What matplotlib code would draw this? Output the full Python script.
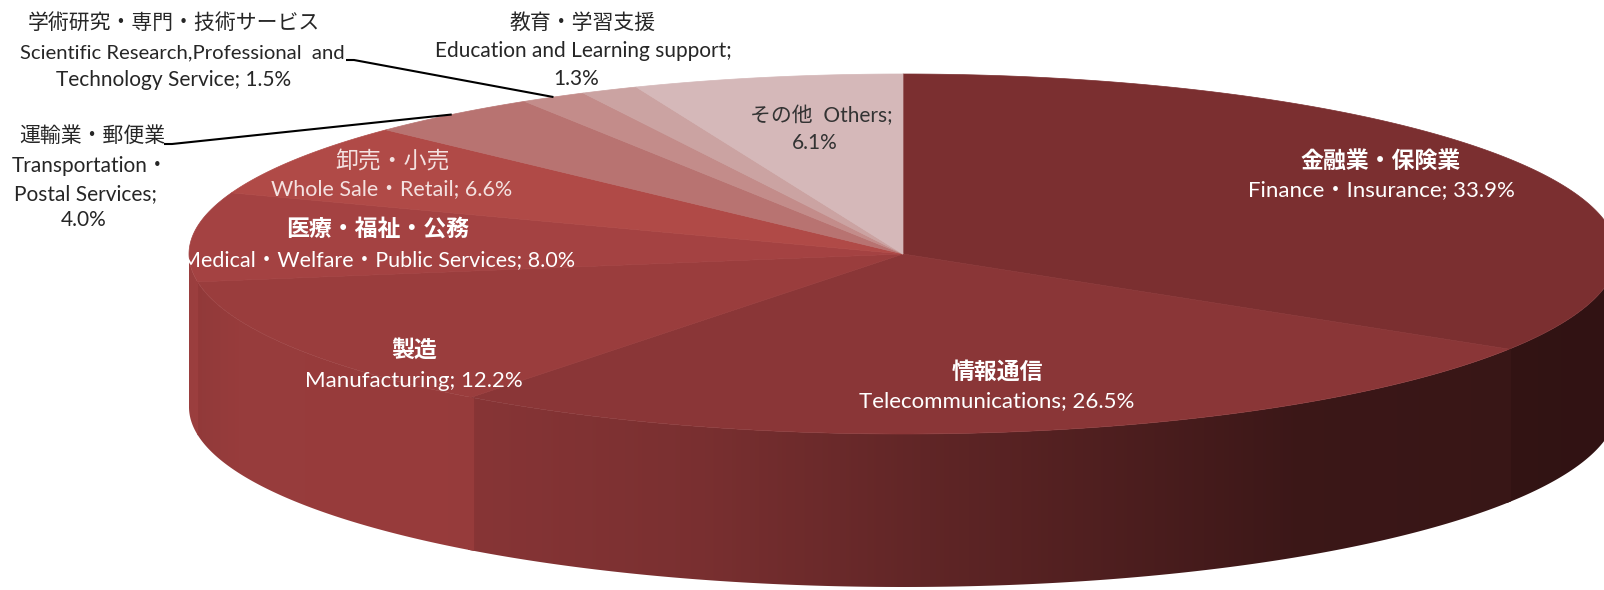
import numpy as np
import matplotlib
matplotlib.use("Agg")
import matplotlib.pyplot as plt
from matplotlib.patches import Polygon
from matplotlib.transforms import Bbox, TransformedBbox

# ---------------- data ----------------
labels_ja = ["金融業・保険業", "情報通信", "製造", "医療・福祉・公務", "卸売・小売",
             "運輸業・郵便業", "学術研究・専門・技術サービス", "教育・学習支援", "その他"]
labels_en = ["Finance・Insurance", "Telecommunications", "Manufacturing",
             "Medical・Welfare・Public Services", "Whole Sale・Retail",
             "Transportation・Postal Services",
             "Scientific Research,Professional  and Technology Service",
             "Education and Learning support", "Others"]
shares = [33.9, 26.5, 12.2, 8.0, 6.6, 4.0, 1.5, 1.3, 6.1]
top_colors = ["#7B2F30", "#8A3637", "#9A3D3D", "#A44242", "#B04A47",
              "#B87371", "#C38C8A", "#CBA3A2", "#D5B8B9"]

# ---------------- geometry / style ----------------
W, H = 1604, 590
cx, cy, rx, ry, depth = 903, 254, 714, 180, 153
JA = ["Noto Sans CJK JP"]
EN = ["Lato", "Noto Sans CJK JP"]

fig = plt.figure(figsize=(W / 100, H / 100), dpi=100)
ax = fig.add_axes([0, 0, 1, 1])
ax.axis("off")


def rim(t):
    r = np.radians(t)
    return cx + rx * np.sin(r), cy - ry * np.cos(r)


def shade(x):
    return np.interp(x, [189, 240, 471, 700, 950, 1150, 1300, 1604],
                     [0.94, 0.985, 0.98, 0.88, 0.68, 0.54, 0.43, 0.40])


total = float(sum(shares))
bounds = np.concatenate([[0], np.cumsum(shares)]) / total * 360.0

# ---- side walls (front half only), horizontal lighting gradient ----
for i, c in enumerate(top_colors):
    a0, a1 = max(bounds[i] - 0.3, 90), min(bounds[i + 1] + 0.3, 270)
    if a1 <= a0 or bounds[i + 1] <= 90 or bounds[i] >= 270:
        continue
    base = np.array(matplotlib.colors.to_rgb(c))
    ts = np.linspace(a0, a1, 200)
    xs, ys = rim(ts)
    verts = list(zip(xs, ys)) + list(zip(xs[::-1], ys[::-1] + depth))
    xmin, xmax = xs.min() - 1, xs.max() + 1
    ymin, ymax = ys.min() - 1, ys.max() + depth + 1
    gx = np.linspace(xmin, xmax, 400)
    img = np.clip(base[None, None, :] * shade(gx)[None, :, None], 0, 1)
    im = ax.imshow(img, extent=(xmin, xmax, ymax, ymin), aspect="auto",
                   interpolation="bilinear", zorder=1)
    clip_patch = Polygon(verts, closed=True, transform=ax.transData)
    im.set_clip_path(clip_patch)

# ---- top faces ----
for i, c in enumerate(top_colors):
    ts = np.linspace(bounds[i], bounds[i + 1], max(int(bounds[i + 1] - bounds[i]) * 2, 3))
    xs, ys = rim(ts)
    pts = [(cx, cy)] + list(zip(xs, ys))
    ax.add_patch(Polygon(pts, closed=True, facecolor=c, edgecolor=c,
                         linewidth=0.5, zorder=2))

ax.set_xlim(0, W)
ax.set_ylim(H, 0)

# ---------------- labels ----------------
white = "#FFFFFF"
dark = "#262626"
clip = TransformedBbox(Bbox([[187, 0], [W, H]]), ax.transData)

# inside labels: (index, x, y_ja, y_en, color, bold_ja)
inside = [
    (0, 1381, 161, 190, white, True),
    (1, 997, 372, 401, white, True),
    (2, 414, 350, 381, white, True),
    (3, 378, 229, 260, white, True),
    (4, 392, 161, 189, "#F4E1E0", False),
]
for i, x, yj, ye, col, bold in inside:
    ax.text(x, yj, labels_ja[i], ha="center", va="center", fontsize=16.5,
            family=JA, color=col, fontweight="bold" if bold else "normal", zorder=5)
    t = ax.text(x, ye, f"{labels_en[i]}; {shares[i]:.1f}%", ha="center", va="center",
                fontsize=16 if i < 3 else 15.5, family=EN, color=col, zorder=5)
    t.set_clip_box(clip)

# Others (on slice, dark text)
ax.text(821, 116, f"{labels_ja[8]}  {labels_en[8]};", ha="center", va="center",
        fontsize=15, family=EN, color="#333333", zorder=5)
ax.text(815, 143, f"{shares[8]:.1f}%", ha="center", va="center",
        fontsize=15, family=EN, color="#333333", zorder=5)

# Education (outside)
ax.text(583, 23, labels_ja[7], ha="center", va="center", fontsize=15, family=JA, color=dark)
ax.text(583, 51, labels_en[7] + ";", ha="center", va="center", fontsize=15, family=EN, color=dark)
ax.text(576, 79, f"{shares[7]:.1f}%", ha="center", va="center", fontsize=15, family=EN, color=dark)

# Scientific (outside, leader line)
ax.text(174, 23, labels_ja[6], ha="center", va="center", fontsize=15, family=JA, color=dark)
ax.text(182, 53, "Scientific Research,Professional  and", ha="center", va="center",
        fontsize=14.6, family=EN, color=dark)
ax.text(174, 80, f"Technology Service; {shares[6]:.1f}%", ha="center", va="center",
        fontsize=15, family=EN, color=dark)
mx, my = rim((bounds[6] + bounds[7]) / 2)
ax.plot([346, 354, mx], [60, 60, my], color="black", lw=1.5, zorder=6,
        solid_capstyle="butt")

# Transport (outside, leader line)
ax.text(92, 136, labels_ja[5], ha="center", va="center", fontsize=15, family=JA, color=dark)
ax.text(90, 166, "Transportation・", ha="center", va="center", fontsize=15, family=EN, color=dark)
ax.text(85, 194, "Postal Services;", ha="center", va="center", fontsize=15, family=EN, color=dark)
ax.text(84, 220, f"{shares[5]:.1f}%", ha="center", va="center", fontsize=15, family=EN, color=dark)
mx, my = rim((bounds[5] + bounds[6]) / 2)
ax.plot([164, 172, mx], [144, 144, my], color="black", lw=1.5, zorder=6,
        solid_capstyle="butt")

fig.savefig("out.png", dpi=100)
